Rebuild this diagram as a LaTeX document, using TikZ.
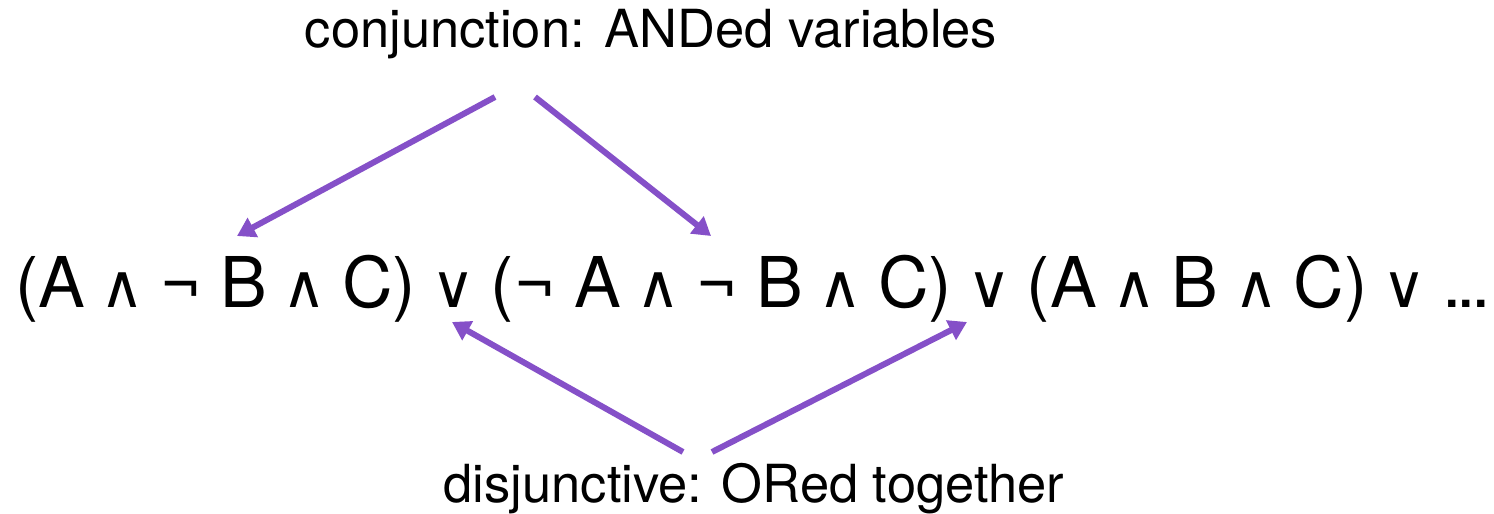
\documentclass[tikz,border=0pt]{standalone}
\usepackage{fontspec}
\setmainfont{TeX Gyre Heros}
\newfontfamily\opfont{DejaVu Sans}
\usetikzlibrary{arrows.meta}
\definecolor{linkpurple}{HTML}{8550C8}
\newcommand{\lAnd}{\makebox[36pt]{\opfont\fontsize{60}{70}\selectfont ∧}}
\newcommand{\lOr}{\makebox[36pt]{\opfont\fontsize{60}{70}\selectfont ∨}}
\newcommand{\lNot}{¬}
\newcommand{\tightdots}{.\kern-5pt.\kern-5pt.}

\begin{document}
\begin{tikzpicture}[
      x=1pt, y=1pt,
      every node/.style={inner sep=0pt},
      caption/.style={font=\fontsize{52.5}{60}\selectfont, anchor=base},
      formula/.style={font=\fontsize{70}{80}\selectfont, anchor=base},
      link/.style={-{Triangle[length=18pt,width=21pt]}, line width=6pt, draw=linkpurple},
    ]
    \useasboundingbox (0,0) rectangle (1494,514);

    \node[caption] (conj) at (651,466) {conjunction: ANDed variables};
    \node[formula] (dnf) at (753,206) {(A \lAnd{} \lNot{} B \lAnd{} C) \lOr{} (\lNot{} A \lAnd{} \lNot{} B \lAnd{} C) \lOr{} (A \lAnd{} B \lAnd{} C) \lOr{} \tightdots};
    \node[caption] (disj) at (754,11) {disjunctive: ORed together};

    % arrow ends
    \coordinate (conjL) at (495,417);
    \coordinate (conjR) at (535,417);
    \coordinate (andA) at (237,278);
    \coordinate (andB) at (711,278);
    \coordinate (disjL) at (683,62);
    \coordinate (disjR) at (712,62);
    \coordinate (orA) at (452,192);
    \coordinate (orB) at (967,192);

    \draw[link] (conjL) -- (andA);
    \draw[link] (conjR) -- (andB);
    \draw[link] (disjL) -- (orA);
    \draw[link] (disjR) -- (orB);
  \end{tikzpicture}
\end{document}
